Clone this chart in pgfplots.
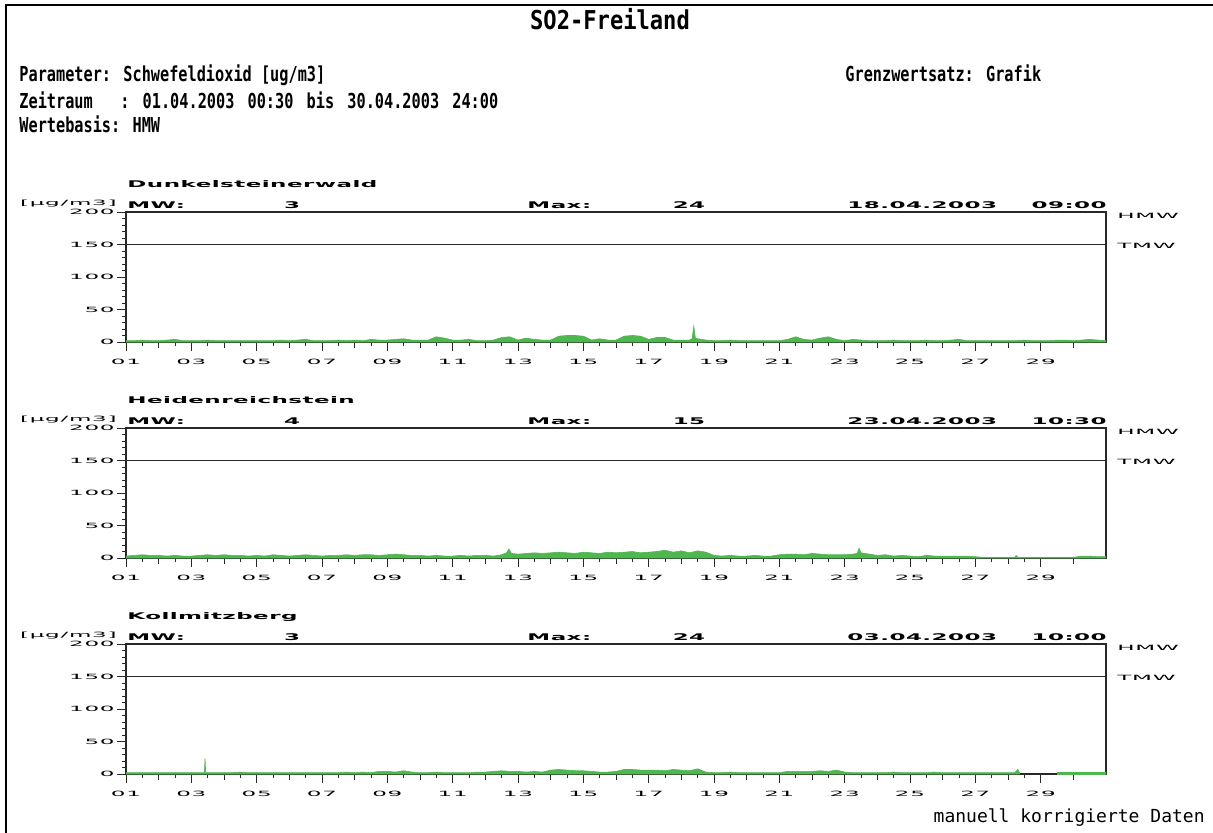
\documentclass[border=0pt]{standalone}
\usepackage{pgfplots}
\pgfplotsset{compat=1.18}
\usepackage{fontspec}
\setmainfont{DejaVu Sans}
\newfontfamily\hdrfontX[FakeStretch=0.74]{DejaVu Sans Mono}
\newfontfamily\titlefontX[FakeStretch=0.85]{DejaVu Sans Mono}
\newfontfamily\notefontX{DejaVu Sans Mono}
\newfontfamily\panelfontX[FakeStretch=2.5,LetterSpace=5]{DejaVu Sans}
\newfontfamily\tickfontX[FakeStretch=3.2,LetterSpace=10]{DejaVu Sans}
\newcommand\hdrfont{\hdrfontX\bfseries\fontsize{10.3pt}{12pt}\selectfont}
\newcommand\titlefont{\titlefontX\bfseries\fontsize{13pt}{15pt}\selectfont}
\newcommand\notefont{\notefontX\fontsize{9pt}{11pt}\selectfont}
\newcommand\panelfont{\panelfontX\bfseries\fontsize{4.6pt}{5pt}\selectfont}
\newcommand\tickfont{\tickfontX\fontsize{3.6pt}{4pt}\selectfont}
\newcommand\gap{\ \hspace{2pt}}
\definecolor{grn}{RGB}{78,184,78}
\definecolor{ax}{RGB}{40,40,40}

\pgfplotsset{panel/.style={
  scale only axis, width=490pt, height=65pt,
  xmin=1, xmax=31, ymin=0, ymax=200,
  anchor=south west,
  axis line style={line width=0.6pt, ax},
  xtick={1,3,...,29},
  xticklabels={01,03,05,07,09,11,13,15,17,19,21,23,25,27,29},
  minor x tick num=3,
  extra x ticks={2,4,...,30},
  extra x tick labels={},
  extra x tick style={major tick length=2.8pt},
  ytick={0,50,100,150,200},
  yticklabels={0,50,100,150,200},
  minor y tick num=4,
  tick align=outside,
  major tick length=4.5pt,
  minor tick length=2pt,
  xtick pos=bottom, ytick pos=left,
  tick style={line width=0.5pt, ax},
  ticklabel style={font=\tickfont, text=black},
  xticklabel style={inner sep=1pt, yshift=-3pt},
  yticklabel style={inner sep=1pt},
}}

\newcommand\paneltext[7]{%
  \begin{scope}[yshift=#1pt]
    \node[anchor=base west,inner sep=0,font=\panelfont] at (63.5pt,77.5pt) {#2};
    \node[anchor=base west,inner sep=0,font=\panelfont] at (63.5pt,67pt) {MW:};
    \node[anchor=base,inner sep=0,font=\panelfont] at (146pt,67pt) {#3};
    \node[anchor=base west,inner sep=0,font=\panelfont] at (263.5pt,67pt) {Max:};
    \node[anchor=base,inner sep=0,font=\panelfont] at (344.5pt,67pt) {#4};
    \node[anchor=base west,inner sep=0,font=\panelfont] at (423.5pt,67pt) {#5};
    \node[anchor=base east,inner sep=0,font=\panelfont] at (553.5pt,67pt) {#6};
    \node[anchor=base east,inner sep=0,font=\tickfont] at (58.5pt,68.5pt) {[µg/m3]};
    \node[anchor=west,inner sep=0,font=\tickfont] at (558.5pt,63pt) {HMW};
    \node[anchor=west,inner sep=0,font=\tickfont] at (558.5pt,48pt) {TMW};
  \end{scope}}

\begin{document}
\begin{tikzpicture}
\useasboundingbox (0,0) rectangle (606.5pt,416pt);
\fill[white] (0,0) rectangle (606.5pt,416pt);
\draw[line width=0.8pt, black] (3pt,-2pt) -- (3pt,413.5pt) -- (610pt,413.5pt);

% header
\node[anchor=base,inner sep=0,font=\titlefont] at (305pt,401pt) {SO2-Freiland};
\node[anchor=base west,inner sep=0,font=\hdrfont] at (9.5pt,375pt) {Parameter: Schwefeldioxid [ug/m3]};
\node[anchor=base west,inner sep=0,font=\hdrfont] at (9.5pt,362pt) {Zeitraum\ \ \ :\gap 01.04.2003\gap 00:30\gap bis\gap 30.04.2003\gap 24:00};
\node[anchor=base west,inner sep=0,font=\hdrfont] at (9.5pt,349.5pt) {Wertebasis: HMW};
\node[anchor=base west,inner sep=0,font=\hdrfont] at (422.5pt,375pt) {Grenzwertsatz: Grafik};
\node[anchor=base east,inner sep=0,font=\notefont] at (602.5pt,5pt) {manuell korrigierte Daten};

% ---------- Panel 1: Dunkelsteinerwald
\begin{axis}[panel, at={(63pt,245pt)}]
\addplot[draw=grn, fill=grn, line width=0.3pt] coordinates {
(1,2)(1.25,2)(1.5,3)(1.75,2)
(2,2)(2.25,3)(2.5,4)(2.75,2)
(3,2)(3.25,2)(3.5,3)(3.75,2)
(4,2)(4.25,2)(4.5,2)(4.75,2)
(5,2)(5.25,2)(5.5,2)(5.75,3)
(6,2)(6.25,3)(6.5,4)(6.75,2)
(7,2)(7.25,2)(7.5,3)(7.75,2)
(8,3)(8.25,2)(8.5,4)(8.75,3)
(9,3)(9.25,4)(9.5,5)(9.75,3)
(10,3)(10.25,3)(10.5,8)(10.75,6)
(11,3)(11.25,3)(11.5,4)(11.75,2)
(12,2)(12.25,3)(12.5,7)(12.75,8)
(13,3)(13.25,6)(13.5,4)(13.75,3)
(14,3)(14.25,9)(14.5,10)(14.75,10)
(15,9)(15.25,3)(15.5,5)(15.75,3)
(16,3)(16.25,9)(16.5,10)(16.75,9)
(17,4)(17.25,7)(17.5,7)(17.75,3)
(18,3)(18.25,3)(18.33,5)(18.38,24)(18.43,6)(18.5,5)(18.75,3)
(19,2)(19.25,2)(19.5,3)(19.75,2)
(20,2)(20.25,2)(20.5,2)(20.75,2)
(21,2)(21.25,4)(21.5,8)(21.75,4)
(22,3)(22.25,6)(22.5,8)(22.75,4)
(23,2)(23.25,4)(23.5,3)(23.75,2)
(24,2)(24.25,2)(24.5,3)(24.75,2)
(25,2)(25.25,2)(25.5,3)(25.75,2)
(26,2)(26.25,3)(26.5,4)(26.75,2)
(27,2)(27.25,2)(27.5,2)(27.75,2)
(28,2)(28.25,2)(28.5,3)(28.75,2)
(29,2)(29.25,2)(29.5,3)(29.75,3)
(30,2)(30.25,3)(30.5,4)(30.75,3)
(31,2)} \closedcycle;
\addplot[ax, line width=0.6pt] coordinates {(1,150) (31,150)};
\end{axis}
\paneltext{245}{Dunkelsteinerwald}{3}{24}{18.04.2003}{09:00}{}

% ---------- Panel 2: Heidenreichstein
\begin{axis}[panel, at={(63pt,137pt)}]
\addplot[draw=grn, fill=grn, line width=0.3pt] coordinates {
(1,3)(1.25,4)(1.5,5)(1.75,4)
(2,4)(2.25,3)(2.5,4)(2.75,3)
(3,3)(3.25,4)(3.5,5)(3.75,4)
(4,5)(4.25,4)(4.5,4)(4.75,3)
(5,4)(5.25,3)(5.5,5)(5.75,4)
(6,3)(6.25,4)(6.5,5)(6.75,4)
(7,3)(7.25,4)(7.5,4)(7.75,5)
(8,4)(8.25,5)(8.5,5)(8.75,4)
(9,5)(9.25,6)(9.5,5)(9.75,4)
(10,4)(10.25,3)(10.5,4)(10.75,3)
(11,3)(11.25,4)(11.5,3)(11.75,4)
(12,4)(12.25,3)(12.5,5)(12.65,8)(12.72,14)(12.8,7)
(13,6)(13.25,7)(13.5,8)(13.75,7)
(14,8)(14.25,9)(14.5,8)(14.75,7)
(15,9)(15.25,8)(15.5,7)(15.75,9)
(16,8)(16.25,9)(16.5,10)(16.75,8)
(17,9)(17.25,10)(17.5,12)(17.75,9)
(18,11)(18.25,8)(18.5,11)(18.75,9)
(19,4)(19.25,3)(19.5,4)(19.75,3)
(20,3)(20.25,4)(20.5,3)(20.75,3)
(21,5)(21.25,6)(21.5,6)(21.75,5)
(22,7)(22.25,6)(22.5,5)(22.75,5)
(23,5)(23.25,6)(23.38,7)(23.44,15)(23.5,8)(23.75,6)
(24,4)(24.25,5)(24.5,3)(24.75,4)
(25,3)(25.25,2)(25.5,4)(25.75,3)
(26,3)(26.25,3)(26.5,3)(26.75,3)
(27,2)(27.25,1)(27.5,1)(27.75,1)
(28,1)(28.2,1)(28.25,4)(28.3,1)(28.5,1)(28.75,1)
(29,1)(29.25,1)(29.5,1)(29.75,1)
(30,1)(30.25,3)(30.5,3)(30.75,2)
(31,2)} \closedcycle;
\addplot[ax, line width=0.6pt] coordinates {(1,150) (31,150)};
\end{axis}
\paneltext{137}{Heidenreichstein}{4}{15}{23.04.2003}{10:30}{}

% ---------- Panel 3: Kollmitzberg
\begin{axis}[panel, at={(63pt,29pt)}]
\addplot[draw=grn, fill=grn, line width=0.3pt] coordinates {
(1,2)(1.25,2)(1.5,2)(1.75,2)
(2,2)(2.25,2)(2.5,2)(2.75,2)
(3,2)(3.25,2)(3.4,2)(3.42,24)(3.44,2)(3.5,2)(3.75,2)
(4,2)(4.25,2)(4.5,3)(4.75,2)
(5,2)(5.25,2)(5.5,2)(5.75,2)
(6,2)(6.25,2)(6.5,2)(6.75,2)
(7,2)(7.25,2)(7.5,2)(7.75,3)
(8,2)(8.25,3)(8.5,2)(8.75,4)
(9,4)(9.25,3)(9.5,5)(9.75,3)
(10,2)(10.25,2)(10.5,3)(10.75,2)
(11,2)(11.25,2)(11.5,2)(11.75,3)
(12,3)(12.25,4)(12.5,5)(12.75,4)
(13,4)(13.25,3)(13.5,4)(13.75,3)
(14,6)(14.25,7)(14.5,6)(14.75,5)
(15,5)(15.25,4)(15.5,3)(15.75,3)
(16,4)(16.25,7)(16.5,7)(16.75,6)
(17,6)(17.25,6)(17.5,5)(17.75,7)
(18,6)(18.25,5)(18.5,8)(18.75,3)
(19,2)(19.25,2)(19.5,3)(19.75,2)
(20,2)(20.25,2)(20.5,2)(20.75,2)
(21,2)(21.25,4)(21.5,4)(21.75,4)
(22,4)(22.25,5)(22.5,4)(22.75,6)
(23,3)(23.25,2)(23.5,2)(23.75,2)
(24,2)(24.25,2)(24.5,3)(24.75,2)
(25,2)(25.25,2)(25.5,2)(25.75,3)
(26,2)(26.25,2)(26.5,2)(26.75,2)
(27,2)(27.25,2)(27.5,2)(27.75,2)
(28,2)(28.2,2)(28.3,7)(28.35,2)} \closedcycle;
\addplot[draw=grn, fill=grn, line width=0.3pt] coordinates {
(29.5,2)(29.75,2)(30,2)(30.25,2)(30.5,2)(30.75,2)(31,2)} \closedcycle;
\addplot[ax, line width=0.6pt] coordinates {(1,150) (31,150)};
\end{axis}
\paneltext{29}{Kollmitzberg}{3}{24}{03.04.2003}{10:00}{}
\end{tikzpicture}
\end{document}
